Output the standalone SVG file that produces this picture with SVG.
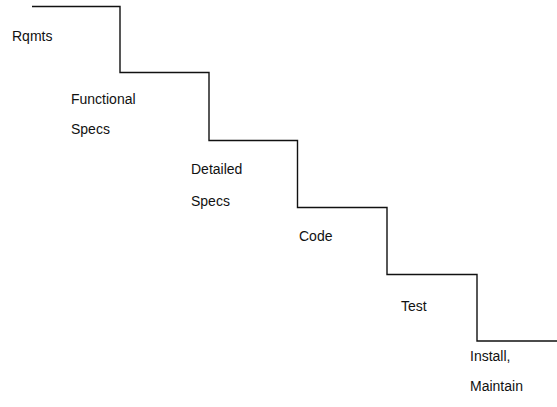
<svg xmlns="http://www.w3.org/2000/svg" width="557" height="407" viewBox="0 0 557 407">
  <style>
    .step { fill: none; stroke: #111; stroke-width: 1.4; }
    .lbl { font-family: "Liberation Sans", Arial, sans-serif; font-size: 14px; fill: #111; }
  </style>
  <rect width="557" height="407" fill="#fff"/>
  <!-- staircase outline -->
  <g id="connectors">
    <path class="step" d="M32,6.5 H120 V72.5 H209 V140.5 H297.5 V207.5 H387 V274.5 H477 V341 H557"/>
  </g>
  <g id="rqmts"><text class="lbl" x="12" y="40.5">Rqmts</text></g>
  <g id="functional-specs">
    <text class="lbl" x="71" y="104">Functional</text>
    <text class="lbl" x="71" y="134">Specs</text>
  </g>
  <g id="detailed-specs">
    <text class="lbl" x="191" y="174">Detailed</text>
    <text class="lbl" x="191" y="206">Specs</text>
  </g>
  <g id="code"><text class="lbl" x="299" y="241">Code</text></g>
  <g id="test"><text class="lbl" x="401" y="311">Test</text></g>
  <g id="install-maintain">
    <text class="lbl" x="470" y="361">Install,</text>
    <text class="lbl" x="470" y="391">Maintain</text>
  </g>
</svg>
